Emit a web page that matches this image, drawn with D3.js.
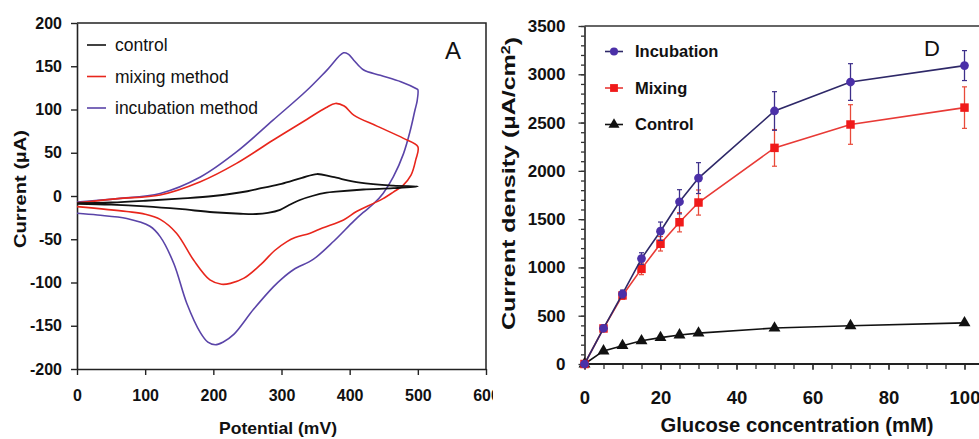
<!DOCTYPE html>
<html>
<head>
<meta charset="utf-8">
<script src="https://cdn.jsdelivr.net/npm/d3@7/dist/d3.min.js"></script>
<style>
  body { margin: 0; background: #fff; }
  svg { display: block; }
  text { font-family: "Liberation Sans", Arial, Helvetica, sans-serif; fill: #111; }
</style>
</head>
<body>
<svg id="chart" width="979" height="439"></svg>
<script>
// ---------- Panel A: cyclic voltammograms (potential mV, current µA) ----------
// Each loop: forward scan 0 -> 500 mV, then reverse scan back to 0 mV.
const controlE = [0, 50, 100, 150, 200, 250, 270, 300, 330, 352, 375, 415, 464, 500,
                  464, 420, 380, 366, 345, 327, 310, 298, 280, 263, 240, 200, 150, 100, 50, 0];
const controlI = [-8.4, -7.5, -5.5, -3, 0, 5.5, 9, 14, 21, 25.4, 22, 15.4, 12, 11,
                  9, 7.5, 5, 3.8, 0, -4.6, -11, -16, -19.5, -20.8, -20.5, -18.8, -15, -12, -10, -9];

const mixingE = [0, 60, 122, 181, 234, 288, 337, 365, 379, 392, 406, 440, 479, 500,
                 497, 490, 478, 464, 449, 435, 410, 391, 360, 342, 320, 308, 290, 269, 245, 225, 212, 195, 171, 146, 122, 100, 73, 0];
const mixingI = [-8, -3, 1.2, 16.5, 37.7, 64.7, 88.5, 102, 107, 104, 93.5, 80.8, 66.6, 57,
                 42, 24, 12, 4.5, -3, -8.5, -18, -27.7, -37, -43, -48, -52.7, -63, -79.7, -95, -101, -102, -97, -74, -43, -27, -21, -18, -12.3];

const incubationE = [0, 60, 122, 181, 234, 288, 337, 366, 391, 398, 406, 420, 445, 475, 498, 500,
                     499, 496, 489, 479, 464, 449, 435, 420, 406, 377, 347, 318, 300, 288, 259, 230, 214, 203, 192, 181, 161, 142, 122, 107, 73, 30, 0];
const incubationI = [-7, -3, 3, 22, 51, 88, 122, 145, 165.5, 164, 157, 146, 139.5, 132, 124, 123,
                     110, 100, 76, 49, 22, 3, -9, -19, -29, -52, -73, -85, -96, -105, -131, -160, -169, -172, -169, -158, -124, -78, -47, -35, -26, -22, -20];

const cvLegend = ["control", "mixing method", "incubation method"];
const cvColors = ["#111111", "#e8261c", "#5a44a8"];
const cvXTicks = [0, 100, 200, 300, 400, 500, 600];
const cvYTicks = [-200, -150, -100, -50, 0, 50, 100, 150, 200];

// ---------- Panel D: calibration curves ----------
const glucose       = [0, 5, 10, 15, 20, 25, 30, 50, 70, 100];
const incubation    = [0, 370, 725, 1092, 1375, 1680, 1925, 2620, 2920, 3090];
const incubationErr = [0, 30, 40, 60, 95, 125, 160, 200, 190, 155];
const mixing        = [0, 368, 710, 985, 1245, 1468, 1672, 2238, 2480, 2655];
const mixingErr     = [0, 30, 40, 60, 75, 100, 130, 190, 205, 215];
const control       = [0, 135, 190, 240, 273, 301, 320, 372, 396, 426];

const dLegend = ["Incubation", "Mixing", "Control"];
const dXTicks = [0, 20, 40, 60, 80, 100];
const dYTicks = [0, 500, 1000, 1500, 2000, 2500, 3000, 3500];

const svg = d3.select("#chart");
const FONT = '"Liberation Sans", Arial, Helvetica, sans-serif';
const plain = d => String(d);   // plain hyphen for negatives

// ================= Panel A =================
const xA = d3.scaleLinear().domain([0, 600]).range([77, 486]);
const yA = d3.scaleLinear().domain([-200, 200]).range([369, 23]);
const gA = svg.append("g");

// frame (top and right sides)
gA.append("path")
  .attr("d", `M${xA(0)},${yA(200)}H${xA(600)}V${yA(-200)}`)
  .attr("fill", "none").attr("stroke", "#222").attr("stroke-width", 1.5);

const axA_x = gA.append("g").attr("transform", `translate(0,${yA(-200)})`)
  .call(d3.axisBottom(xA).tickValues(cvXTicks).tickSize(6).tickSizeOuter(0).tickPadding(15).tickFormat(plain));
const axA_y = gA.append("g").attr("transform", `translate(${xA(0)},0)`)
  .call(d3.axisLeft(yA).tickValues(cvYTicks).tickSize(6).tickSizeOuter(0).tickPadding(9).tickFormat(plain));
[axA_x, axA_y].forEach(ax => {
  ax.select(".domain").attr("stroke", "#222").attr("stroke-width", 1.6);
  ax.selectAll(".tick line").attr("stroke", "#222").attr("stroke-width", 1.4);
  ax.selectAll(".tick text").attr("font-family", FONT).attr("font-size", 16)
    .attr("font-weight", "bold").attr("fill", "#222");
});

const cvLine = d3.line()
  .x(d => xA(d[0])).y(d => yA(d[1]))
  .curve(d3.curveCatmullRom.alpha(0.5));

const cvSeries = [
  d3.zip(controlE, controlI),
  d3.zip(mixingE, mixingI),
  d3.zip(incubationE, incubationI)
];
// draw incubation first so the smaller loops sit on top
[2, 1, 0].forEach(i => {
  gA.append("path").datum(cvSeries[i])
    .attr("d", cvLine)
    .attr("fill", "none")
    .attr("stroke", cvColors[i])
    .attr("stroke-width", i === 0 ? 1.8 : 1.6)
    .attr("stroke-linejoin", "round");
});

// legend
const legA = gA.append("g");
cvLegend.forEach((name, i) => {
  const y = 45 + i * 31.5;
  legA.append("line").attr("x1", 87).attr("x2", 106).attr("y1", y).attr("y2", y)
    .attr("stroke", cvColors[i]).attr("stroke-width", 1.6);
  legA.append("text").attr("x", 115).attr("y", y).attr("dy", "0.35em")
    .attr("font-size", 17.5).attr("fill", "#1a1a1a").text(name);
});

gA.append("text").attr("x", 453).attr("y", 59).attr("text-anchor", "middle")
  .attr("font-size", 24).attr("fill", "#222").text("A");

// axis titles
gA.append("text").attr("x", 278).attr("y", 434).attr("text-anchor", "middle")
  .attr("font-size", 16.5).attr("font-weight", "bold").attr("fill", "#222")
  .attr("textLength", 118).attr("lengthAdjust", "spacingAndGlyphs")
  .text("Potential (mV)");
gA.append("text")
  .attr("transform", `translate(26,189) rotate(-90)`)
  .attr("text-anchor", "middle")
  .attr("font-size", 16.5).attr("font-weight", "bold").attr("fill", "#222")
  .attr("textLength", 118).attr("lengthAdjust", "spacingAndGlyphs")
  .text("Current (µA)");

// ================= Panel D =================
svg.append("rect").attr("x", 493).attr("y", 0).attr("width", 486).attr("height", 439).attr("fill", "#fff");

const xD = d3.scaleLinear().domain([0, 100]).range([584.5, 964.5]);
const yD = d3.scaleLinear().domain([0, 3500]).range([364, 26]);
const gD = svg.append("g");

// top frame line, running off the right edge
gD.append("line").attr("x1", xD(0)).attr("x2", 979).attr("y1", yD(3500)).attr("y2", yD(3500))
  .attr("stroke", "#333").attr("stroke-width", 1.5);

// x axis: minor ticks every 5 mM, labelled majors every 20 mM
const axD_xMinor = gD.append("g").attr("transform", `translate(0,${yD(0)})`)
  .call(d3.axisBottom(xD).tickValues(d3.range(0, 101, 5)).tickSize(5).tickSizeOuter(0).tickFormat(""));
axD_xMinor.select(".domain").remove();
const axD_x = gD.append("g").attr("transform", `translate(0,${yD(0)})`)
  .call(d3.axisBottom(xD).tickValues(dXTicks).tickSize(6).tickSizeOuter(0).tickPadding(21).tickFormat(plain));
axD_x.select(".domain").remove();
gD.append("line").attr("x1", xD(0)).attr("x2", 979).attr("y1", yD(0)).attr("y2", yD(0))
  .attr("stroke", "#222").attr("stroke-width", 1.8);

// y axis: minor ticks every 100, labelled majors every 500
const axD_yMinor = gD.append("g").attr("transform", `translate(${xD(0)},0)`)
  .call(d3.axisLeft(yD).tickValues(d3.range(0, 3501, 100)).tickSize(3.5).tickSizeOuter(0).tickFormat(""));
axD_yMinor.select(".domain").remove();
const axD_y = gD.append("g").attr("transform", `translate(${xD(0)},0)`)
  .call(d3.axisLeft(yD).tickValues(dYTicks).tickSize(6).tickSizeOuter(0).tickPadding(13).tickFormat(plain));
axD_y.select(".domain").attr("stroke", "#222").attr("stroke-width", 1.6);

[axD_xMinor, axD_x, axD_yMinor, axD_y].forEach(ax => {
  ax.selectAll(".tick line").attr("stroke", "#333").attr("stroke-width", 1.3);
});
axD_x.selectAll(".tick text").attr("font-family", FONT).attr("font-size", 18.5)
  .attr("font-weight", "bold").attr("fill", "#2a2a2a");
axD_y.selectAll(".tick text").attr("font-family", FONT).attr("font-size", 17)
  .attr("font-weight", "bold").attr("fill", "#2a2a2a");

const dSeries = [
  { vals: incubation, err: incubationErr, line: "#2e2868", mark: "#4b30a8", errColor: "#3d2f8a", shape: "circle" },
  { vals: mixing,     err: mixingErr,     line: "#e83a36", mark: "#f01a1a", errColor: "#e84a3a", shape: "square" },
  { vals: control,    err: null,          line: "#111111", mark: "#111111", errColor: "#111", shape: "triangle" }
];

const dLine = d3.line().x((d, i) => xD(glucose[i])).y(d => yD(d));
const symbolFor = s => s === "circle" ? d3.symbolCircle : s === "square" ? d3.symbolSquare : d3.symbolTriangle;
const symbolSize = s => s === "circle" ? 60 : s === "square" ? 72 : 62;

// draw control first, then mixing, then incubation on top
[2, 1, 0].forEach(k => {
  const s = dSeries[k];
  const g = gD.append("g");
  if (s.err) {
    glucose.forEach((x, i) => {
      if (!s.err[i]) return;
      const cx = xD(x), y1 = yD(s.vals[i] + s.err[i]), y2 = yD(s.vals[i] - s.err[i]);
      g.append("line").attr("x1", cx).attr("x2", cx).attr("y1", y1).attr("y2", y2)
        .attr("stroke", s.errColor).attr("stroke-width", 1.3);
      [y1, y2].forEach(yy => g.append("line").attr("x1", cx - 2.5).attr("x2", cx + 2.5)
        .attr("y1", yy).attr("y2", yy).attr("stroke", s.errColor).attr("stroke-width", 1.2));
    });
  }
  g.append("path").datum(s.vals).attr("d", dLine)
    .attr("fill", "none").attr("stroke", s.line).attr("stroke-width", 1.6);
  g.selectAll("path.pt").data(s.vals).join("path").attr("class", "pt")
    .attr("transform", (d, i) => `translate(${xD(glucose[i])},${yD(d)})`)
    .attr("d", d3.symbol().type(symbolFor(s.shape)).size(symbolSize(s.shape)))
    .attr("fill", s.mark);
});

// legend
const legD = gD.append("g");
dLegend.forEach((name, i) => {
  const s = dSeries[i];
  const y = 51.5 + i * 36.5;
  legD.append("line").attr("x1", 605).attr("x2", 623).attr("y1", y).attr("y2", y)
    .attr("stroke", s.line).attr("stroke-width", 1.6);
  legD.append("path").attr("transform", `translate(614,${y})`)
    .attr("d", d3.symbol().type(symbolFor(s.shape)).size(symbolSize(s.shape) * 0.85))
    .attr("fill", s.mark);
  legD.append("text").attr("x", 635).attr("y", y).attr("dy", "0.35em")
    .attr("font-size", 16.5).attr("font-weight", "bold").attr("fill", "#2a2a2a").text(name);
});

gD.append("text").attr("x", 932).attr("y", 56).attr("text-anchor", "middle")
  .attr("font-size", 22).attr("fill", "#222").text("D");

// axis titles
gD.append("text").attr("x", 797).attr("y", 432).attr("text-anchor", "middle")
  .attr("font-size", 20.5).attr("font-weight", "bold").attr("fill", "#2a2a2a")
  .attr("textLength", 273).attr("lengthAdjust", "spacingAndGlyphs")
  .text("Glucose concentration (mM)");
const yTitle = gD.append("text")
  .attr("transform", `translate(515,183.5) rotate(-90)`)
  .attr("text-anchor", "middle")
  .attr("font-size", 19).attr("font-weight", "bold").attr("fill", "#2a2a2a")
  .attr("textLength", 293).attr("lengthAdjust", "spacingAndGlyphs");
yTitle.append("tspan").text("Current density (µA/cm");
yTitle.append("tspan").attr("dy", "-0.45em").attr("font-size", 12).text("2");
yTitle.append("tspan").attr("dy", "0.45em").text(")");
</script>
</body>
</html>
